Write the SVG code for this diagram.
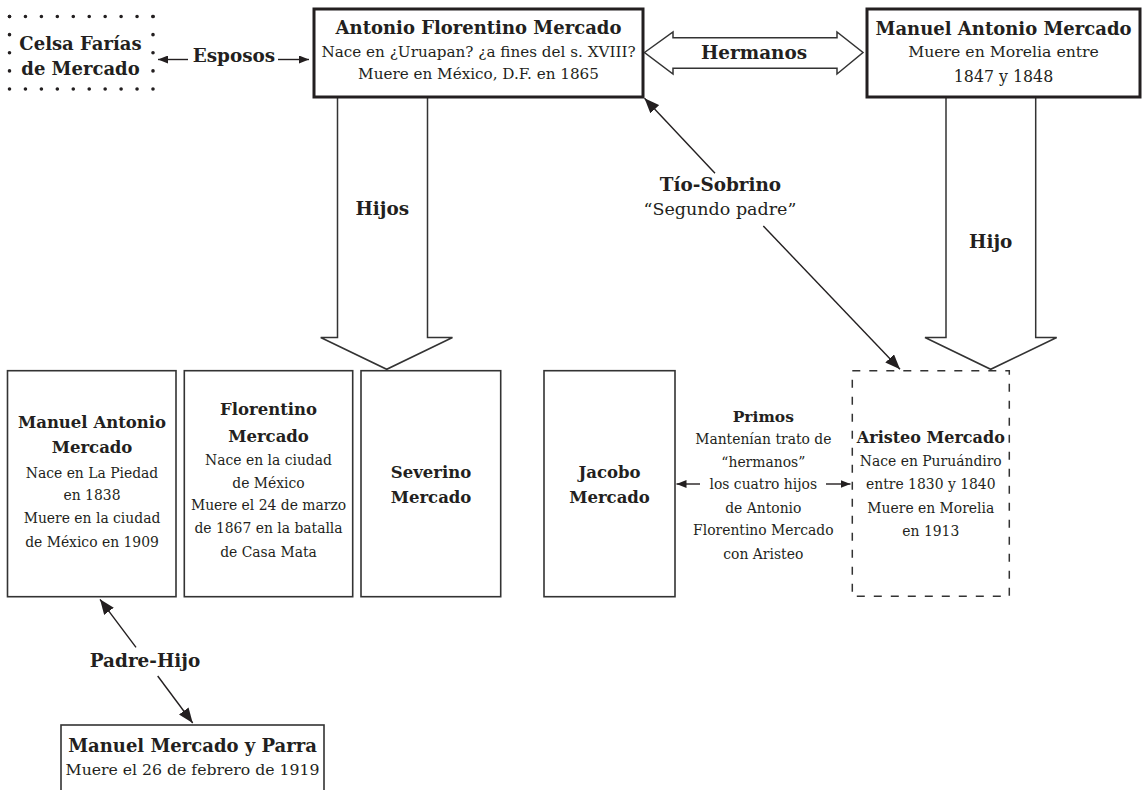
<svg xmlns="http://www.w3.org/2000/svg" width="1143" height="790" viewBox="0 0 1143 790">
<defs>
<style>
text{font-family:"DejaVu Serif","Liberation Serif",serif;fill:#231f20;text-anchor:middle}
.b{font-weight:bold;font-size:18.4px}
.bt{font-weight:bold;font-size:18px}
.bs{font-weight:bold;font-size:16.5px}
.r{font-size:15.2px}
.rs{font-size:13.9px}
.thick{fill:#fff;stroke:#231f20;stroke-width:3}
.thin{fill:#fff;stroke:#333;stroke-width:1.6}
.big{fill:#fff;stroke:#333;stroke-width:1.5;stroke-linejoin:miter}
.ln{stroke:#231f20;stroke-width:1.4;fill:none}
.dot{stroke:#231f20;stroke-width:3.6;stroke-linecap:round;fill:none}
</style>
<marker id="ah" markerUnits="userSpaceOnUse" markerWidth="16" markerHeight="12" refX="15" refY="6" orient="auto">
<path d="M0,0 L15,6 L0,12 z" fill="#231f20"/>
</marker>
<marker id="as" markerUnits="userSpaceOnUse" markerWidth="11" markerHeight="8" refX="10" refY="4" orient="auto">
<path d="M0,0 L10,4 L0,8 z" fill="#231f20"/>
</marker>
</defs>
<rect width="1143" height="790" fill="#fff"/>

<g id="connectors">
<polygon class="big" points="337.5,97 427.5,97 427.5,337.5 452.5,337.5 386.7,369.3 320.7,337.5 337.5,337.5"/>
<polygon class="big" points="946,97 1035.7,97 1035.7,337.5 1056.7,337.5 990.7,369.3 925,337.5 946,337.5"/>
<polygon class="big" points="644.5,52.5 673,32 673,37.7 837,37.7 837,32 863,52.5 837,74 837,68.3 673,68.3 673,74"/>
<line class="ln" x1="188" y1="59.5" x2="158" y2="59.5" marker-end="url(#as)"/>
<line class="ln" x1="278" y1="59.5" x2="309" y2="59.5" marker-end="url(#as)"/>
<line class="ln" x1="715" y1="173.3" x2="644.5" y2="98.3" marker-end="url(#ah)"/>
<line class="ln" x1="763.3" y1="226" x2="900" y2="369.3" marker-end="url(#ah)"/>
<line class="ln" x1="700" y1="484" x2="676.5" y2="484" marker-end="url(#as)"/>
<line class="ln" x1="826" y1="484" x2="850.5" y2="484" marker-end="url(#as)"/>
<line class="ln" x1="136" y1="647.3" x2="100" y2="599.3" marker-end="url(#ah)"/>
<line class="ln" x1="157.7" y1="676" x2="192.7" y2="723" marker-end="url(#ah)"/>
<text class="b" x="754" y="59.3">Hermanos</text>
<text class="b" x="234" y="61.5">Esposos</text>
<text class="b" x="382.3" y="215">Hijos</text>
<text class="b" x="990.7" y="247.7">Hijo</text>
<text class="b" x="720.5" y="190.7">Tío-Sobrino</text>
<text class="r" x="720" y="215" style="font-size:17.5px">“Segundo padre”</text>
<text class="bs" x="763.3" y="421.7" style="font-size:15.5px">Primos</text>
<text class="rs" x="763.3" y="444">Mantenían trato de</text>
<text class="rs" x="763.3" y="466.7">“hermanos”</text>
<text class="rs" x="763.3" y="489.3">los cuatro hijos</text>
<text class="rs" x="763.3" y="512.7">de Antonio</text>
<text class="rs" x="763.3" y="535">Florentino Mercado</text>
<text class="rs" x="763.3" y="559">con Aristeo</text>
<text class="b" x="145" y="666.7">Padre-Hijo</text>
</g>

<g id="celsa">
<line class="dot" x1="9.5" y1="16.5" x2="153" y2="16.5" stroke-dasharray="0 15.944"/>
<line class="dot" x1="9.5" y1="89" x2="153" y2="89" stroke-dasharray="0 15.944"/>
<line class="dot" x1="9.5" y1="16.5" x2="9.5" y2="89" stroke-dasharray="0 18.125"/>
<line class="dot" x1="153" y1="16.5" x2="153" y2="89" stroke-dasharray="0 18.125"/>
<text class="bt" x="80.5" y="50">Celsa Farías</text>
<text class="bt" x="80.5" y="75">de Mercado</text>
</g>

<g id="antonio-florentino">
<rect class="thick" x="314" y="9" width="329" height="88"/>
<text class="bt" x="478.5" y="34.3">Antonio Florentino Mercado</text>
<text class="r" x="478.5" y="57.3">Nace en ¿Uruapan? ¿a fines del s. XVIII?</text>
<text class="r" x="478.5" y="79">Muere en México, D.F. en 1865</text>
</g>

<g id="manuel-antonio-padre">
<rect class="thick" x="867" y="9" width="273" height="88"/>
<text class="bt" x="1003.5" y="35">Manuel Antonio Mercado</text>
<text class="r" x="1003.5" y="57.3" style="font-size:15.7px">Muere en Morelia entre</text>
<text class="r" x="1003.5" y="82" style="font-size:15.8px">1847 y 1848</text>
</g>

<g id="manuel-antonio-hijo">
<rect class="thin" x="7.5" y="370.7" width="168.5" height="226"/>
<text class="bs" x="92" y="428.3">Manuel Antonio</text>
<text class="bs" x="92" y="453.3">Mercado</text>
<text class="rs" x="92" y="478.3">Nace en La Piedad</text>
<text class="rs" x="92" y="500">en 1838</text>
<text class="rs" x="92" y="523.3">Muere en la ciudad</text>
<text class="rs" x="92" y="546.7">de México en 1909</text>
</g>

<g id="florentino">
<rect class="thin" x="184.3" y="370.7" width="168.4" height="226"/>
<text class="bs" x="268.5" y="415">Florentino</text>
<text class="bs" x="268.5" y="441.7">Mercado</text>
<text class="rs" x="268.5" y="465">Nace en la ciudad</text>
<text class="rs" x="268.5" y="488.3">de México</text>
<text class="rs" x="268.5" y="510">Muere el 24 de marzo</text>
<text class="rs" x="268.5" y="532.7">de 1867 en la batalla</text>
<text class="rs" x="268.5" y="556.7">de Casa Mata</text>
</g>

<g id="severino">
<rect class="thin" x="361" y="370.7" width="139.7" height="226"/>
<text class="bs" x="431" y="478.3">Severino</text>
<text class="bs" x="431" y="503.3">Mercado</text>
</g>

<g id="jacobo">
<rect class="thin" x="544" y="370.7" width="131" height="226"/>
<text class="bs" x="609.5" y="478.3">Jacobo</text>
<text class="bs" x="609.5" y="503.3">Mercado</text>
</g>

<g id="aristeo">
<rect x="852.3" y="370.7" width="157" height="225.5" fill="none" stroke="#333" stroke-width="1.5" stroke-dasharray="8 9"/>
<text class="bs" x="930.8" y="442.7" style="font-size:16px">Aristeo Mercado</text>
<text class="rs" x="930.8" y="466">Nace en Puruándiro</text>
<text class="rs" x="930.8" y="489.3">entre 1830 y 1840</text>
<text class="rs" x="930.8" y="512.7">Muere en Morelia</text>
<text class="rs" x="930.8" y="536">en 1913</text>
</g>

<g id="manuel-mercado-parra">
<rect class="thin" x="61" y="725" width="263" height="80"/>
<text class="bt" x="192.5" y="751.7">Manuel Mercado y Parra</text>
<text class="r" x="192.5" y="775" style="font-size:15.7px">Muere el 26 de febrero de 1919</text>
</g>
</svg>
